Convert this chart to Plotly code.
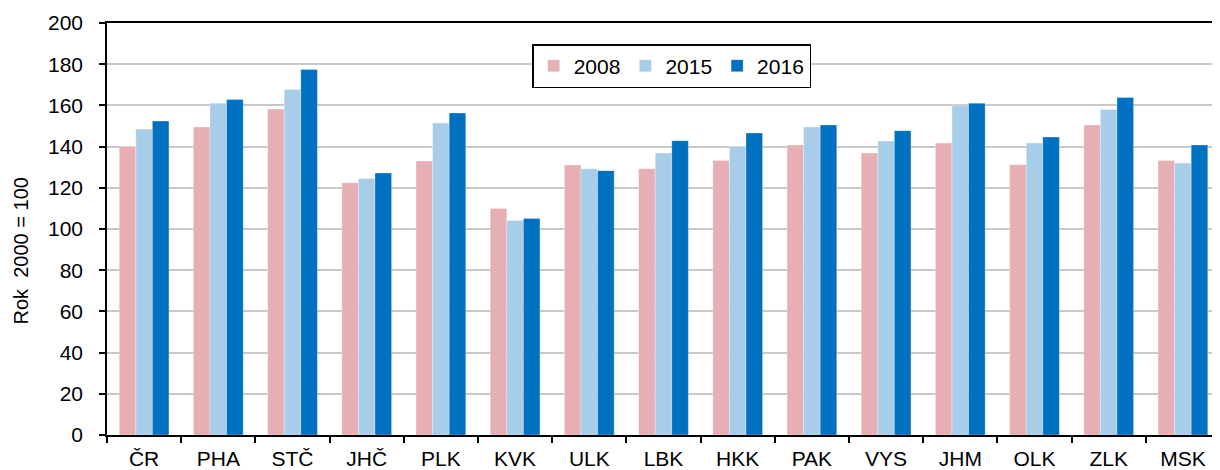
import plotly.graph_objects as go

categories = ["ČR", "PHA", "STČ", "JHČ", "PLK", "KVK", "ULK", "LBK", "HKK", "PAK",
              "VYS", "JHM", "OLK", "ZLK", "MSK"]
v2008 = [140.0, 149.5, 158.2, 122.5, 133.0, 109.9, 131.1, 129.3, 133.2, 140.8,
         136.9, 141.7, 131.2, 150.5, 133.2]
v2015 = [148.5, 161.1, 167.7, 124.5, 151.4, 104.1, 129.3, 136.9, 140.0, 149.5,
         142.7, 160.1, 141.7, 158.0, 132.0]
v2016 = [152.4, 162.9, 177.4, 127.2, 156.3, 105.1, 128.3, 142.9, 146.6, 150.5,
         147.7, 161.1, 144.6, 163.8, 140.8]
series_names = ["2008", "2015", "2016"]
colors = ["#E6AFB3", "#A8CDE8", "#0070C0"]
y_title = "Rok  2000 = 100"

fig = go.Figure()
for name, vals, col in zip(series_names, [v2008, v2015, v2016], colors):
    fig.add_trace(go.Bar(x=categories, y=vals, name=name,
                         marker=dict(color=col, line=dict(color="rgba(255,255,255,0.6)", width=0.5))))

font_family = "Liberation Sans, Arial, sans-serif"
# page body has an 8px margin, so the figure is shifted by (8, 8)
fig.update_layout(
    width=1212, height=462,
    margin=dict(l=99, r=0, t=15, b=26),
    paper_bgcolor="white", plot_bgcolor="white",
    barmode="group", bargap=0.33, bargroupgap=0,
    font=dict(family=font_family, size=21, color="black"),
    legend=dict(orientation="h", x=0.382, y=0.949, xanchor="left", yanchor="top",
                bordercolor="black", borderwidth=1.5, bgcolor="white",
                font=dict(size=21), itemwidth=30, tracegroupgap=0),
    xaxis=dict(showline=True, linecolor="black", linewidth=1.5, mirror=True,
               ticks="outside", tickson="boundaries", ticklen=6, tickwidth=1.5,
               tickcolor="black", showgrid=False, tickfont=dict(size=21),
               ticklabelstandoff=4),
    yaxis=dict(range=[0, 200], dtick=20, showline=True, linecolor="black", linewidth=1.5,
               ticks="outside", ticklen=6, tickwidth=1.5, tickcolor="black",
               showgrid=True, gridcolor="#C8C8C8", gridwidth=1.5, zeroline=False,
               tickfont=dict(size=21), ticklabelstandoff=12),
    annotations=[dict(text=y_title, textangle=-90, xref="paper", yref="paper",
                      x=0, y=0.4455, xanchor="center", yanchor="middle",
                      xshift=-86, showarrow=False, font=dict(size=20))],
)
fig.write_html("out.html")
